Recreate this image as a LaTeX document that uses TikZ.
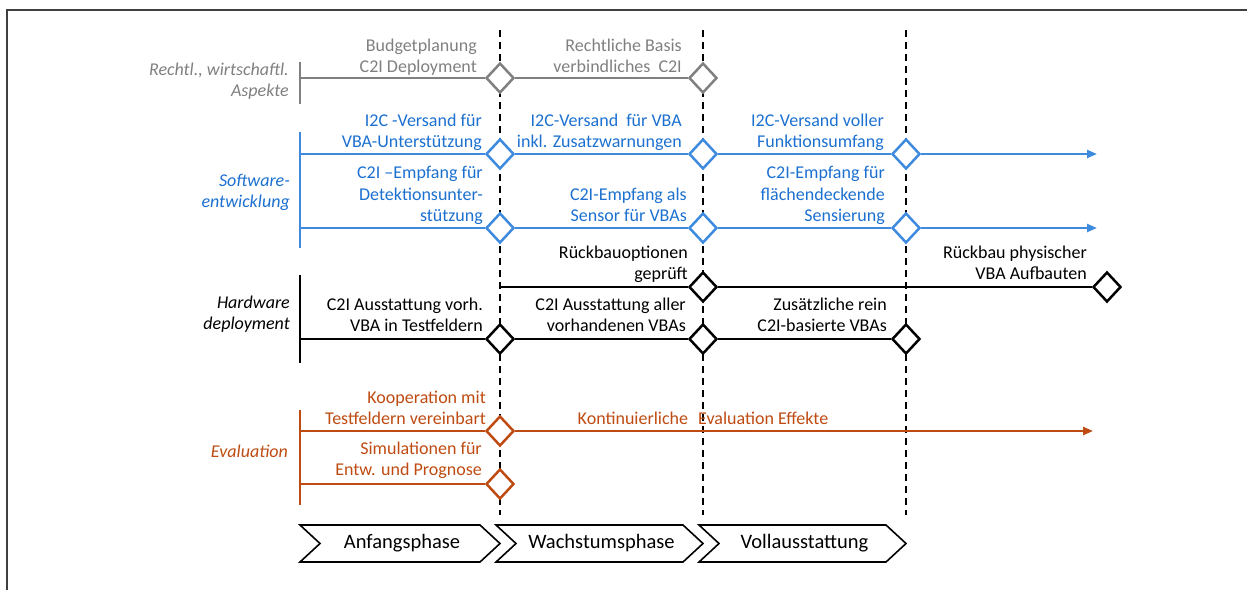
\documentclass[tikz,border=0pt]{standalone}
\usepackage{fontspec}
\setmainfont{Carlito}
\usetikzlibrary{shapes.geometric,arrows.meta}
\definecolor{greyc}{RGB}{128,128,128}
\definecolor{bluet}{RGB}{28,112,208}
\definecolor{bluel}{RGB}{62,138,222}
\definecolor{rust}{RGB}{190,75,18}
\definecolor{framec}{RGB}{64,64,64}

\begin{document}
\begin{tikzpicture}[x=1pt,y=-1pt,
  every node/.style={font=\fontsize{18}{21.5}\selectfont},
  ms/.style={diamond, draw, fill=white, line width=2.5pt,
    minimum width=28pt, minimum height=30pt, inner sep=0pt},
  lbl/.style={anchor=south east, inner sep=0pt, align=right},
  hdr/.style={anchor=south east, inner sep=0pt, align=right,
    font=\fontsize{18}{21.5}\selectfont\itshape},
  track/.style={line width=2.2pt},
  bar/.style={line width=2.5pt},
  tip/.style={-{Triangle[length=10pt,width=8pt]}},
  phaseline/.style={line width=2.6pt, dash pattern=on 7pt off 5pt},
  chev/.style={draw, line width=1.6pt, fill=white},
  chevtext/.style={font=\fontsize{20.5}{24}\selectfont}
]
\useasboundingbox (0,0) rectangle (1247,590);

% outer frame (left and top edges)
\draw[framec, line width=2pt] (7,590) -- (7,10) -- (1247,10);

% phase boundaries
\foreach \x/\n in {500/pa,703/pb,906/pc} {
  \coordinate (\n t) at (\x,30);
  \coordinate (\n b) at (\x,515);
  \draw[phaseline] (\n t) -- (\n b);
}

% ---------- legal / economic aspects ----------
\draw[bar, greyc] (300,62) -- (300,104);
\coordinate (gL) at (300,78);
\node[ms, draw=greyc] (g1) at (500,78) {};
\node[ms, draw=greyc] (g2) at (703,78) {};
\draw[track, greyc] (gL) -- (g1) (g1) -- (g2);
\node[hdr, text=greyc] (hg) at (289,103.5) {Rechtl., wirtschaftl.\\Aspekte\strut};
\node[lbl, text=greyc] (lg1) at (477,79.5) {Budgetplanung\\C2I Deployment\strut};
\node[lbl, text=greyc] (lg2) at (682,79.5) {Rechtliche Basis\\verbindliches\hspace{4pt} C2I\strut};

% ---------- software development ----------
\draw[bar, bluel] (300,132) -- (300,248);
\coordinate (bL1) at (300,154);
\coordinate (bE1) at (1097,154);
\node[ms, draw=bluel] (b11) at (500,154) {};
\node[ms, draw=bluel] (b12) at (703,154) {};
\node[ms, draw=bluel] (b13) at (906,154) {};
\draw[track, bluel] (bL1) -- (b11) (b11) -- (b12) (b12) -- (b13);
\draw[track, bluel, tip] (b13) -- (bE1);

\coordinate (bL2) at (300,228);
\coordinate (bE2) at (1097,228);
\node[ms, draw=bluel] (b21) at (500,228) {};
\node[ms, draw=bluel] (b22) at (703,228) {};
\node[ms, draw=bluel] (b23) at (906,228) {};
\draw[track, bluel] (bL2) -- (b21) (b21) -- (b22) (b22) -- (b23);
\draw[track, bluel, tip] (b23) -- (bE2);

\node[hdr, text=bluet] (hb) at (290,214.5) {Software-\\entwicklung\strut};
\node[lbl, text=bluet] (lb11) at (482,154.5) {I2C -Versand für\\VBA-Unterstützung\strut};
\node[lbl, text=bluet] (lb12) at (682,154.5) {I2C-Versand\hspace{4pt} für VBA\\inkl. Zusatzwarnungen\strut};
\node[lbl, text=bluet] (lb13) at (884,154.5) {I2C-Versand voller\\Funktionsumfang\strut};
\node[lbl, text=bluet] (lb21) at (483,228.5) {C2I –Empfang für\\Detektionsunter-\\stützung\strut};
\node[lbl, text=bluet] (lb22) at (687,228.5) {C2I-Empfang als\\Sensor für VBAs\strut};
\node[lbl, text=bluet] (lb23) at (885,228.5) {C2I-Empfang für\\flächendeckende\\Sensierung\strut};

% ---------- hardware deployment ----------
\draw[bar] (300,275) -- (300,363);
\coordinate (kS) at (500,287);
\node[ms] (k11) at (703,287) {};
\node[ms] (k12) at (1107,287) {};
\draw[track] (kS) -- (k11) (k11) -- (k12);

\coordinate (kL) at (300,339);
\node[ms] (k21) at (500,339) {};
\node[ms] (k22) at (703,339) {};
\node[ms] (k23) at (906,339) {};
\draw[track] (kL) -- (k21) (k21) -- (k22) (k22) -- (k23);

\node[hdr] (hk) at (290,336.5) {Hardware\\deployment\strut};
\node[lbl] (lk11) at (688,286.5) {Rückbauoptionen\\geprüft\strut};
\node[lbl] (lk12) at (1087,286.5) {Rückbau physischer\\VBA Aufbauten\strut};
\node[lbl] (lk21) at (483,338.5) {C2I Ausstattung vorh.\\VBA in Testfeldern\strut};
\node[lbl] (lk22) at (686,338.5) {C2I Ausstattung aller\\vorhandenen VBAs\strut};
\node[lbl] (lk23) at (887,338.5) {Zusätzliche rein\\C2I-basierte VBAs\strut};

% ---------- evaluation ----------
\draw[bar, rust] (300,410) -- (300,505);
\coordinate (oL1) at (300,431);
\coordinate (oE1) at (1093,431);
\node[ms, draw=rust] (o11) at (500,431) {};
\draw[track, rust] (oL1) -- (o11);
\draw[track, rust, tip] (o11) -- (oE1);
\coordinate (oL2) at (300,484);
\node[ms, draw=rust] (o21) at (500,484) {};
\draw[track, rust] (oL2) -- (o21);

\node[hdr, text=rust] (ho) at (288,464.5) {Evaluation\strut};
\node[lbl, text=rust] (lo11) at (486,431.5) {Kooperation mit\\Testfeldern vereinbart\strut};
\node[lbl, text=rust] (lo21) at (482,482.5) {Simulationen für\\Entw. und Prognose\strut};
\node[anchor=base, inner sep=0pt, text=rust] (lo12) at (703,424) {Kontinuierliche\hspace{6pt} Evaluation Effekte};

% ---------- phases ----------
\foreach \xl/\xr/\n/\t in {300/500/p1/Anfangsphase, 496/703/p2/Wachstumsphase, 699/906/p3/Vollausstattung} {
  \draw[chev] (\xl,525) -- (\xr-20,525) -- (\xr,543.5) -- (\xr-20,562) -- (\xl,562) -- (\xl+20,543.5) -- cycle;
  \node[chevtext] (\n) at ({(\xl+\xr)/2+2},543.5) {\t};
}
\end{tikzpicture}
\end{document}
